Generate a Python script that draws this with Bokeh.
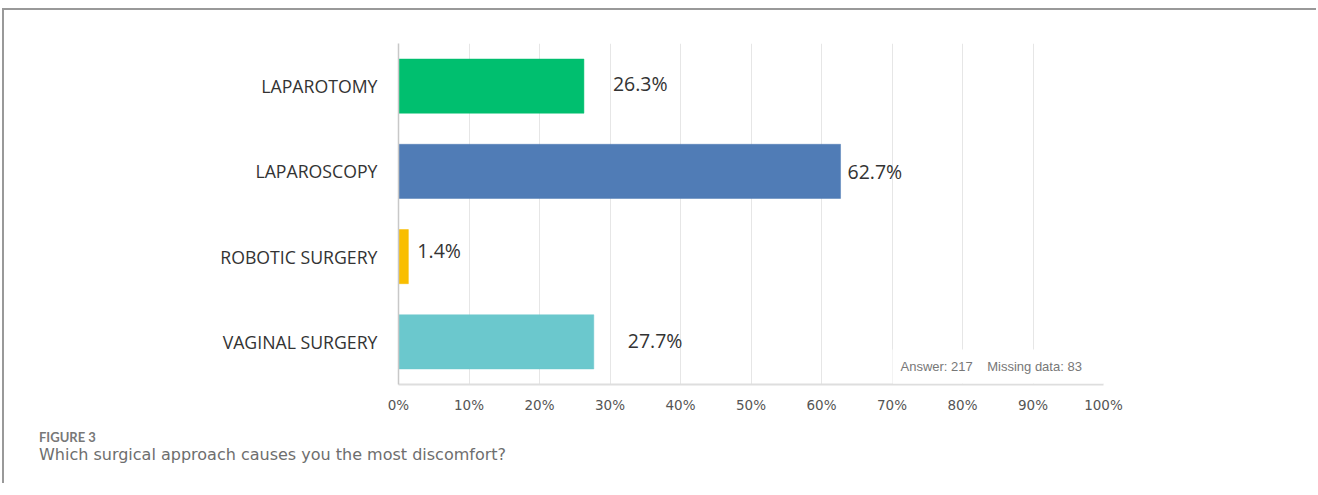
from bokeh.plotting import figure
from bokeh.models import ColumnDataSource, Label, FactorRange, Range1d, FixedTicker, Div
from bokeh.layouts import column
from bokeh.embed import file_html
from bokeh.resources import INLINE
from bokeh.core.properties import value

# ---- data ----
categories = ["LAPAROTOMY", "LAPAROSCOPY", "ROBOTIC SURGERY", "VAGINAL SURGERY"]
percentages = [26.3, 62.7, 1.4, 27.7]
value_labels = ["26.3%", "62.7%", "1.4%", "27.7%"]
x_ticks = [0, 10, 20, 30, 40, 50, 60, 70, 80, 90, 100]
x_tick_labels = ["0%", "10%", "20%", "30%", "40%", "50%", "60%", "70%", "80%", "90%", "100%"]
answer_count = 217
missing_count = 83
figure_label = "FIGURE 3"
caption = "Which surgical approach causes you the most discomfort?"

# ---- styles ----
bar_colors = ["#00BF6F", "#507CB6", "#F9BE00", "#6BC8CD"]
label_dx = [29, 7, 9, 34]      # px offsets of value labels from bar ends
label_dy = [-3, 0, -6, -1]
NARROW = "'Liberation Sans Narrow', 'Arial Narrow', 'Open Sans', sans-serif"
W = 1312

src = ColumnDataSource(dict(
    cat=categories, val=percentages, color=bar_colors,
    lbl=value_labels, dx=label_dx, dy=label_dy,
))

p = figure(
    width=W, height=410,
    y_range=FactorRange(factors=categories[::-1]),
    x_range=Range1d(0, 100),
    output_backend="svg", toolbar_location=None,
    min_border_left=394, min_border_right=213,
    min_border_top=33, min_border_bottom=36,
)
p.outline_line_color = None
p.background_fill_color = "white"
p.border_fill_color = "white"

p.hbar(y="cat", left=0, right="val", height=0.635, fill_color="color",
       line_color="color", line_alpha=0.5, source=src)

p.text(x="val", y="cat", text="lbl", x_offset="dx", y_offset="dy",
       text_baseline="middle", text_align="left",
       text_font=value(NARROW), text_font_size="19.5px", text_color="#333333",
       source=src)

# grid
p.ygrid.grid_line_color = None
p.xgrid.ticker = FixedTicker(ticks=x_ticks)
p.xgrid.grid_line_color = "#e6e6e6"
p.xgrid.grid_line_width = 1

# x axis
xa = p.xaxis[0]
xa.ticker = FixedTicker(ticks=x_ticks)
xa.major_label_overrides = {t: l for t, l in zip(x_ticks, x_tick_labels)}
xa.axis_line_color = "#dedede"
xa.axis_line_width = 2
xa.major_tick_line_color = None
xa.minor_tick_line_color = None
xa.major_tick_out = 0
xa.major_tick_in = 0
xa.major_label_standoff = 12
xa.major_label_text_font = "DejaVu Sans"
xa.major_label_text_font_size = "13.5px"
xa.major_label_text_color = "#555555"

# y axis
ya = p.yaxis[0]
ya.axis_line_color = "#c8c8c8"
ya.axis_line_width = 1.5
ya.major_tick_line_color = None
ya.minor_tick_line_color = None
ya.major_tick_out = 0
ya.major_tick_in = 0
ya.major_label_standoff = 21
ya.major_label_text_font = NARROW
ya.major_label_text_font_size = "17.7px"
ya.major_label_text_color = "#333333"

# answer / missing note
p.add_layout(Label(
    x=0, y=0, x_offset=494, y_offset=18,
    text=f"Answer: {answer_count}\u00a0\u00a0\u00a0 Missing data: {missing_count}",
    text_font="Liberation Sans", text_font_size="13px", text_color="#777777",
    text_baseline="middle", text_align="left",
    background_fill_color="white", padding=(8, 22, 9, 10),
))

# ---- caption block ----
cap_html = (
    '<div style="margin:9px 0 0 35px;padding:0;font-family:Lato,sans-serif;'
    'font-weight:bold;font-size:13px;line-height:16px;color:#787878;'
    f'white-space:nowrap;">{figure_label}</div>'
    '<div style="margin:0px 0 0 35px;padding:0;font-family:\'DejaVu Sans\',sans-serif;'
    'font-size:16px;line-height:20px;color:#6e6e6e;'
    f'white-space:nowrap;">{caption}</div>'
)
cap = Div(text=cap_html, width=W, height=63,
          styles={"margin": "0", "padding": "0"})

layout = column(p, cap, spacing=0,
                styles={"border-top": "2px solid #999999",
                        "border-left": "2px solid #999999",
                        "margin-left": "2px", "margin-top": "8px"})

open("out.html", "w").write(file_html(layout, INLINE))
